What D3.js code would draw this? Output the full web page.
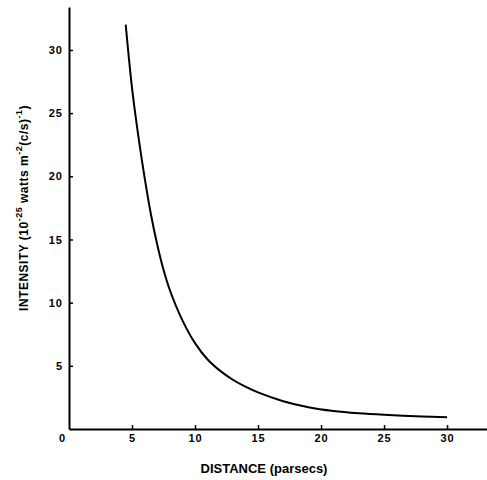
<!DOCTYPE html>
<html>
<head>
<meta charset="utf-8">
<script src="https://cdn.jsdelivr.net/npm/d3@7"></script>
<style>
  body { margin: 0; background: #fff; }
  svg { display: block; }
  .axis text { font-family: "Liberation Sans", Arial, sans-serif; font-weight: bold; font-size: 11px; letter-spacing: 1px; fill: #000; }
  .axis path, .axis line { stroke: #000; }
  .label { font-family: "Liberation Sans", Arial, sans-serif; font-weight: bold; fill: #000; }
</style>
</head>
<body>
<script>
// distance (parsecs) and intensity
var distance  = [4.5, 5, 5.5, 6, 6.5, 7, 7.5, 8, 9, 10, 11, 12, 13, 14, 15, 17, 19, 21, 23, 25, 28, 30];
var intensity = [32.0, 27.0, 23.2, 19.9, 17.0, 14.6, 12.6, 11.0, 8.6, 6.8, 5.5, 4.6, 3.9, 3.35, 2.9, 2.2, 1.72, 1.42, 1.24, 1.12, 0.99, 0.93];
var xTicks = [0, 5, 10, 15, 20, 25, 30];
var yTicks = [5, 10, 15, 20, 25, 30];

var width = 487;
var height = 480;

var svg = d3.select("body")
  .append("svg")
  .attr("width", width)
  .attr("height", height);

var x = d3.scaleLinear().domain([0, 33.17]).range([69, 487]);
var y = d3.scaleLinear().domain([0, 33.4]).range([429, 7]);

var data = distance.map(function(d, i) { return { d: d, v: intensity[i] }; });

// x axis, ticks pointing up
var xAxis = svg.append("g")
  .attr("class", "axis")
  .attr("transform", "translate(0," + y(0) + ")")
  .call(d3.axisBottom(x).tickValues(xTicks).tickSize(-4).tickSizeOuter(0).tickPadding(5));
xAxis.select(".domain").attr("stroke-width", 2);
xAxis.selectAll(".tick line").attr("stroke-width", 1.5);
xAxis.selectAll(".tick text").filter(function(d) { return d === 0; })
  .attr("dx", -7);
xAxis.selectAll(".tick line").filter(function(d) { return d === 0; }).remove();

// y axis, ticks pointing right
var yAxis = svg.append("g")
  .attr("class", "axis")
  .attr("transform", "translate(" + x(0) + ",0)")
  .call(d3.axisLeft(y).tickValues(yTicks).tickSize(-4).tickSizeOuter(0).tickPadding(6));
yAxis.select(".domain").attr("stroke-width", 2);
yAxis.selectAll(".tick line").attr("stroke-width", 1.5);

// the curve
var line = d3.line()
  .x(function(d) { return x(d.d); })
  .y(function(d) { return y(d.v); })
  .curve(d3.curveCatmullRom.alpha(0.5));

svg.append("path")
  .datum(data)
  .attr("fill", "none")
  .attr("stroke", "#000")
  .attr("stroke-width", 2)
  .attr("d", line);

// x label
svg.append("text")
  .attr("class", "label")
  .attr("x", 264)
  .attr("y", 473)
  .attr("text-anchor", "middle")
  .attr("font-size", 13)
  .text("DISTANCE (parsecs)");

// y label with superscripts
var yl = svg.append("text")
  .attr("class", "label")
  .attr("transform", "translate(28,208) rotate(-90)")
  .attr("text-anchor", "middle")
  .attr("font-size", 12)
  .attr("letter-spacing", 0.5);
yl.append("tspan").text("INTENSITY  (10");
yl.append("tspan").attr("dy", -6).attr("font-size", 9).text("-25");
yl.append("tspan").attr("dy", 6).text(" watts  m");
yl.append("tspan").attr("dy", -6).attr("font-size", 9).text("-2");
yl.append("tspan").attr("dy", 6).text("(c/s)");
yl.append("tspan").attr("dy", -6).attr("font-size", 9).text("-1");
yl.append("tspan").attr("dy", 6).text(")");
</script>
</body>
</html>
